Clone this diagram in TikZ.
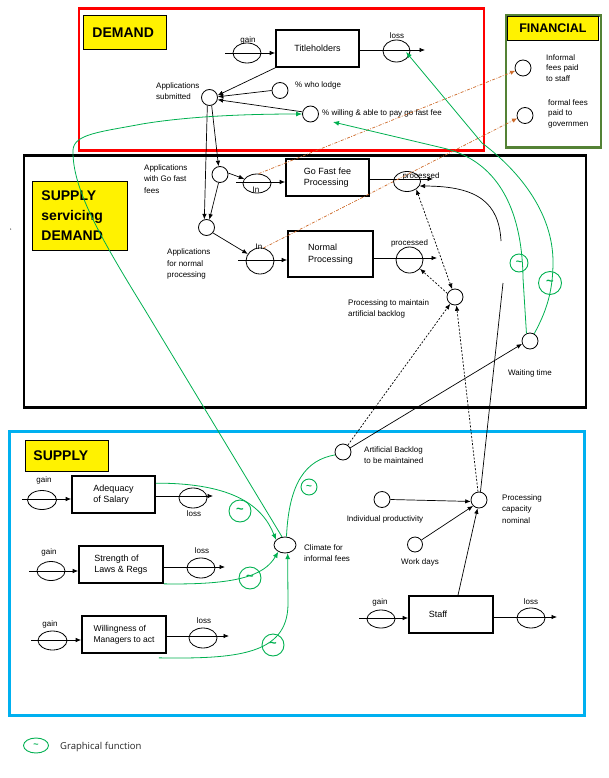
\documentclass[tikz,border=0pt]{standalone}
\usepackage{fontspec}
\setmainfont{Liberation Sans}
\newfontfamily\legfont{Open Sans}
\usetikzlibrary{shapes.geometric,arrows.meta,calc}
\definecolor{gfg}{RGB}{0,176,80}
\definecolor{orng}{RGB}{205,105,40}
\definecolor{frgreen}{RGB}{84,130,53}
\definecolor{cyanfr}{RGB}{0,176,240}
\begin{document}
\begin{tikzpicture}[x=1pt,y=-1pt,
 aux/.style={circle,draw,line width=0.8pt,minimum size=16pt,inner sep=0pt},
 vlv/.style={ellipse,draw,line width=0.8pt,inner sep=0pt},
 stk/.style={rectangle,draw,line width=1.7pt,inner sep=0pt,align=left,font=\fontsize{9}{11.5}\selectfont},
 lbl/.style={font=\fontsize{8}{11.5}\selectfont,align=left,inner sep=0pt},
 arr/.style={line width=0.7pt,-{Latex[length=5.5pt,width=4.5pt]}},
 darr/.style={line width=0.7pt,dash pattern=on 2pt off 1.6pt},
 gln/.style={draw=gfg,line width=0.8pt},
 garr/.style={gln,-{Latex[length=6pt,width=5pt]}},
 gfn/.style={circle,draw=gfg,line width=0.9pt,inner sep=0pt,text=gfg,font=\bfseries\fontsize{13}{13}\selectfont},
 oarr/.style={draw=orng,line width=0.7pt,dash pattern=on 3pt off 1.5pt on 0.8pt off 1.5pt,-{Latex[length=5pt,width=4.5pt]}},
 frame/.style={rectangle,line width=2.6pt,anchor=north west,inner sep=0pt},
 head/.style={rectangle,fill=yellow,draw,line width=0.9pt,anchor=north west,align=left,font=\bfseries\fontsize{14}{20}\selectfont}
]
\useasboundingbox (0,0) rectangle (608,778);

% ---------- frames ----------
\node[frame,draw=red,minimum width=405pt,minimum height=142pt] (fdem) at (77.5,7.5) {};
\node[frame,draw=frgreen,minimum width=95pt,minimum height=132pt] (ffin) at (504.5,14.5) {};
\node[frame,draw=black,minimum width=562pt,minimum height=252pt] (fsd) at (22.5,154) {};
\node[frame,draw=cyanfr,minimum width=575pt,minimum height=284pt] (fsup) at (8,430) {};

% ---------- headings ----------
\node[head,minimum width=83pt,minimum height=34pt,text width=65pt,inner xsep=9pt] (hdem) at (83,15) {DEMAND};
\node[head,minimum width=91pt,minimum height=24pt,inner xsep=3pt,align=center,font=\bfseries\fontsize{12.5}{14}\selectfont] (hfin) at (507,16) {FINANCIAL};
\node[head,minimum width=95pt,minimum height=69pt,text width=77pt,inner xsep=9pt] (hsd) at (32,181) {SUPPLY\\servicing\\DEMAND};
\node[head,minimum width=83pt,minimum height=31pt,text width=67pt,inner xsep=8pt] (hsup) at (25,440) {SUPPLY};
\node[font=\fontsize{7}{7}\selectfont,inner sep=0pt] (tick) at (11,231) {`};

% ---------- DEMAND ----------
\node[stk,minimum width=83pt,minimum height=37pt] (tit) at (317.5,48.5) {Titleholders};
\node[vlv,minimum width=28pt,minimum height=20pt] (tg) at (247,53) {};
\node[vlv,minimum width=27pt,minimum height=22pt] (tl) at (396.5,51) {};
\node[aux] (as) at (209.5,97.5) {};
\node[aux] (wl) at (280,90.5) {};
\node[aux] (wil) at (310.5,114) {};

\node[lbl] (ltg) at (248,40.5) {gain};
\node[lbl] (ltl) at (397,35.5) {loss};
\node[lbl,anchor=west] (las) at (156,91) {Applications\\submitted};
\node[lbl,anchor=west] (lwl) at (295,85) {\% who lodge};
\node[lbl,anchor=west] (lwil) at (322,113) {\% willing \& able to pay go fast fee};

\coordinate (tgs) at (225,53);
\coordinate (tle) at (425,50);
\draw[arr] (tgs) -- (tgs -| tit.west);
\draw[arr] (tle -| tit.east) -- (tle);
\draw[arr] (tit.south west) -- (as.15);
\draw[arr] (wl.west) -- (as.5);
\draw[arr] (wil.165) -- (as.-15);

% ---------- FINANCIAL ----------
\node[aux] (inf) at (523,68) {};
\node[aux] (frm) at (525,115.5) {};
\node[lbl,anchor=west,font=\fontsize{8}{10.5}\selectfont] (linf) at (546,68) {Informal\\fees paid\\to staff};
\node[lbl,anchor=west,font=\fontsize{8}{10.5}\selectfont] (lfrm) at (548,113.5) {formal fees\\paid to\\governmen};

% ---------- SUPPLY servicing DEMAND ----------
\node[aux] (gfc) at (220,174.5) {};
\node[aux] (nc) at (206.5,227.5) {};
\node[vlv,minimum width=28pt,minimum height=19pt] (in1) at (257,183.5) {};
\node[vlv,minimum width=28pt,minimum height=26pt] (in2) at (260,261) {};
\node[stk,minimum width=83pt,minimum height=37pt] (gfb) at (327.5,177.5) {Go Fast fee\\Processing};
\node[stk,minimum width=85pt,minimum height=46pt] (nb) at (330.5,254) {Normal\\Processing};
\node[vlv,minimum width=27pt,minimum height=20pt] (p1) at (407,181.5) {};
\node[vlv,minimum width=27pt,minimum height=26pt] (p2) at (409.5,260) {};
\node[aux] (pb) at (455,297) {};
\node[aux] (wt) at (530,341) {};

\node[lbl,anchor=west] (lgfc) at (144,179) {Applications\\with Go fast\\fees};
\node[lbl,anchor=west] (lnc) at (167,264) {Applications\\for normal\\processing};
\node[lbl] (lin1) at (256,190) {In};
\node[lbl] (lin2) at (259,247) {In};
\node[lbl] (lp1) at (421,176.5) {processed};
\node[lbl] (lp2) at (409.5,243) {processed};
\node[lbl,anchor=west] (lpb) at (348,309) {Processing to maintain\\artificial backlog};
\node[lbl] (lwt) at (530,373) {Waiting time};

\draw[arr] (as.-75) -- (gfc.100);
\draw[arr] (as.-105) -- (nc.105);
\draw[arr] (gfc.-100) -- (nc.70);
\draw[arr] (gfc.10) -- (in1.160);
\draw[arr] (nc.-40) -- (in2.150);
\coordinate (i1s) at (236,182);
\coordinate (i2s) at (238,260);
\coordinate (p1e) at (433,179);
\coordinate (p2e) at (437,258);
\draw[arr] (i1s) -- (i1s -| gfb.west);
\draw[arr] (i2s) -- (i2s -| nb.west);
\draw[arr] (p1e -| gfb.east) -- (p1e);
\draw[arr] (p2e -| nb.east) -- (p2e);

% dotted links
\draw[darr,{Latex[length=5.5pt,width=4.5pt]}-{Latex[length=5.5pt,width=4.5pt]}] (p1.-40) -- (pb.110);
\draw[darr,-{Latex[length=5.5pt,width=4.5pt]}] (pb.155) -- (p2.-40);

% ---------- SUPPLY ----------
\node[stk,minimum width=83pt,minimum height=37pt] (ads) at (113.5,494.5) {Adequacy\\of Salary};
\node[stk,minimum width=84pt,minimum height=37pt] (slr) at (121,564.5) {Strength of\\Laws \& Regs};
\node[stk,minimum width=84pt,minimum height=37pt,font=\fontsize{8.5}{11}\selectfont] (wma) at (124,634.5) {Willingness of\\Managers to act};
\node[stk,minimum width=84pt,minimum height=37pt] (stf) at (451,614.5) {Staff\rule{26pt}{0pt}};

\node[vlv,minimum width=29pt,minimum height=19pt] (ag) at (42,500) {};
\node[vlv,minimum width=28pt,minimum height=20pt] (al) at (193,498) {};
\node[vlv,minimum width=28pt,minimum height=19pt] (sg) at (51,571) {};
\node[vlv,minimum width=28pt,minimum height=20pt] (sl) at (201,568) {};
\node[vlv,minimum width=29pt,minimum height=19pt] (wg) at (52.5,640.5) {};
\node[vlv,minimum width=28pt,minimum height=20pt] (wlv) at (203,638) {};
\node[vlv,minimum width=28pt,minimum height=18pt] (stg) at (381,619) {};
\node[vlv,minimum width=28pt,minimum height=20pt] (stl) at (531,618) {};

\node[lbl] (lag) at (44,480) {gain};
\node[lbl] (lal) at (194,514) {loss};
\node[lbl] (lsg) at (49,552) {gain};
\node[lbl] (lsl) at (202,551) {loss};
\node[lbl] (lwg) at (50,624) {gain};
\node[lbl] (lwlv) at (204,621) {loss};
\node[lbl] (lstg) at (380,602) {gain};
\node[lbl] (lstl) at (531,602) {loss};

\coordinate (ags) at (22,499);
\coordinate (ale) at (213,496);
\coordinate (sgs) at (29,571);
\coordinate (sle) at (225,567);
\coordinate (wgs) at (31,640);
\coordinate (wle) at (229,636);
\coordinate (stgs) at (359,618);
\coordinate (stle) at (557,617);
\draw[arr] (ags) -- (ags -| ads.west);
\draw[arr] (ale -| ads.east) -- (ale);
\draw[arr] (sgs) -- (sgs -| slr.west);
\draw[arr] (sle -| slr.east) -- (sle);
\draw[arr] (wgs) -- (wgs -| wma.west);
\draw[arr] (wle -| wma.east) -- (wle);
\draw[arr] (stgs) -- (stgs -| stf.west);
\draw[arr] (stle -| stf.east) -- (stle);

\node[vlv,minimum width=22pt,minimum height=16pt] (clim) at (285,545) {};
\node[aux] (ab) at (343,452) {};
\node[aux] (pc) at (479,500) {};
\node[aux] (ind) at (382,499.5) {};
\node[aux,minimum size=15pt] (wd) at (415,544.5) {};

\node[lbl,anchor=west] (lclim) at (304,553) {Climate for\\informal fees};
\node[lbl,anchor=west] (lab) at (364,455) {Artificial Backlog\\to be maintained};
\node[lbl] (lind) at (385,519) {Individual productivity};
\node[lbl] (lwd) at (420,562) {Work days};
\node[lbl,anchor=west] (lpc) at (502,509) {Processing\\capacity\\nominal};

\draw[arr] (ind.east) -- (pc.190);
\draw[arr] (wd.35) -- (pc.225);
\draw[arr] (stf.north) ++(7,0) coordinate (stft) (stft) -- (pc.-100);
\draw[arr] (ab.30) -- (wt.200);
\draw[darr,-{Latex[length=5.5pt,width=4.5pt]}] (ab.55) -- (pb.-125);
\draw[darr,-{Latex[length=5.5pt,width=4.5pt]}] (pc.97) -- (pb.-80);

\coordinate (pcu) at (503,283);
\coordinate (pcv) at (501,241);
\draw[line width=0.7pt] (pc.80) -- (pcu);
\draw[arr] (pcv) .. controls (499,203) and (478,186) .. (p1.-20);

% ---------- orange (money) links ----------
\draw[oarr] (in1.80) -- (inf.200);
\draw[oarr] (in2.75) -- (frm.200);

% ---------- green (graphical function) links ----------
\coordinate (g1e) at (333,122);
\coordinate (g2e) at (406,52);
\draw[garr] (wt.115) -- (523,278) .. controls (522,205) and (495,160) .. (443,148) -- (g1e);
\draw[garr] (wt.60) .. controls (546,312) and (553,292) .. (553,262) .. controls (553,215) and (522,173) .. (482,143) -- (g2e);
\draw[garr] (clim.110) -- (145,310) .. controls (100,237) and (72,188) .. (73,150) .. controls (74,134) and (100,132) .. (142,124) .. controls (190,116) and (250,114) .. (wil.west);
\draw[garr] (ads.15) .. controls (235,483) and (263,507) .. (clim.150);
\draw[garr] (slr.south east) .. controls (236,585) and (264,576) .. (clim.225);
\draw[garr] ($(wma.south east)+(-8,4)$) .. controls (236,659) and (287,655) .. (288,605) -- (clim.-72);
\draw[gln] (clim.80) .. controls (289,482) and (306,460) .. (ab.200);

\node[gfn,minimum size=18pt,font=\bfseries\fontsize{11}{11}\selectfont] (gf1) at (519,263) {\char`~};
\node[gfn,minimum size=23pt] (gf2) at (550,283) {\char`~};
\node[gfn,minimum size=22pt] (gfa) at (240,511) {\char`~};
\node[gfn,minimum size=22pt] (gfs) at (250,578) {\char`~};
\node[gfn,minimum size=22pt] (gfw) at (273,645) {\char`~};
\node[gfn,minimum size=16pt,font=\bfseries\fontsize{10}{10}\selectfont] (gfcl) at (309,487) {\char`~};

% ---------- legend ----------
\node[gfn,ellipse,minimum width=25pt,minimum height=15pt,font=\bfseries\fontsize{9}{9}\selectfont] (leg) at (36,745.5) {\char`~};
\node[anchor=west,inner sep=0pt,font=\legfont\fontsize{9.5}{11}\selectfont,text={black!85}] (lleg) at (60,747) {Graphical function};
\end{tikzpicture}
\end{document}
